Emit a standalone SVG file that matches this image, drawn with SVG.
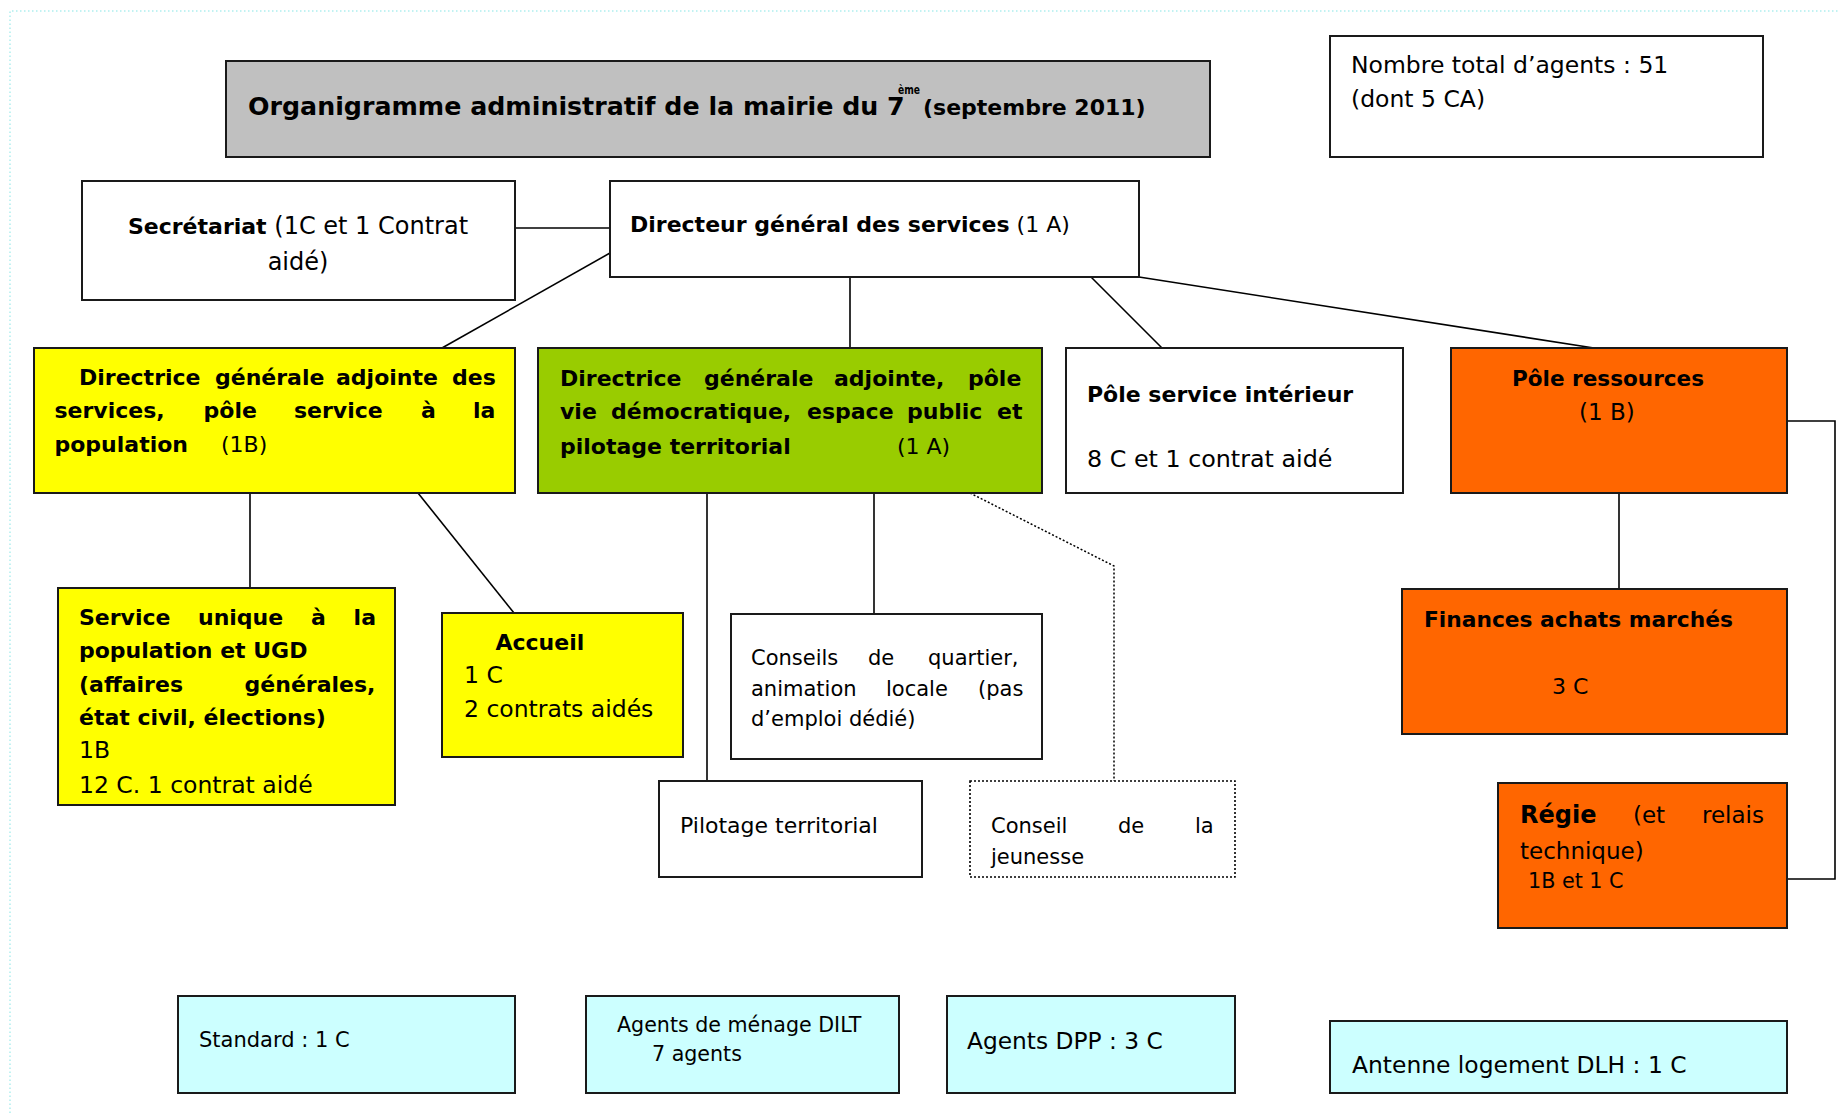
<svg xmlns="http://www.w3.org/2000/svg" width="1839" height="1113" viewBox="0 0 1839 1113">
<style>
text{font-family:"DejaVu Sans","Verdana",sans-serif;fill:#000}
.b{font-weight:bold}
.box{stroke:#1a1a1a;stroke-width:2}
.w{fill:#fff}.g{fill:#c0c0c0}.y{fill:#ffff00}.gr{fill:#99cc00}.o{fill:#ff6600}.c{fill:#ccffff}
.ln{stroke:#000;stroke-width:1.6;fill:none}
.dot{stroke:#000;stroke-width:1.5;fill:none;stroke-dasharray:2 2}
.f22{font-size:22px}.f23{font-size:23.5px}.f21{font-size:21px}
</style>
<g id="page-border"><path d="M10 1113 V11 H1839" fill="none" stroke="#aeeeee" stroke-width="1.5" stroke-dasharray="1.5 2.5"/></g>
<g id="connectors">
<line class="ln" x1="515" y1="228" x2="610" y2="228"/>
<line class="ln" x1="610" y1="253" x2="442" y2="348"/>
<line class="ln" x1="850" y1="277" x2="850" y2="348"/>
<line class="ln" x1="1091" y1="277" x2="1162" y2="348"/>
<line class="ln" x1="1139" y1="277" x2="1594" y2="348"/>
<line class="ln" x1="250" y1="493" x2="250" y2="588"/>
<line class="ln" x1="418" y1="493" x2="514" y2="613"/>
<line class="ln" x1="707" y1="493" x2="707" y2="781"/>
<line class="ln" x1="874" y1="493" x2="874" y2="614"/>
<polyline class="dot" points="970,493 1114,566 1114,781"/>
<line class="ln" x1="1619" y1="493" x2="1619" y2="589"/>
<polyline class="ln" points="1787,421 1835,421 1835,879 1787,879"/>
</g>
<g id="title">
<rect class="box g" x="226" y="61" width="984" height="96"/>
<text class="b" x="248" y="115" font-size="25.3">Organigramme administratif de la mairie du 7</text>
<text class="b" x="898" y="94" font-size="12" textLength="22" lengthAdjust="spacingAndGlyphs">ème</text>
<text class="b" x="923" y="115" font-size="22">(septembre 2011)</text>
</g>
<g id="total">
<rect class="box w" x="1330" y="36" width="433" height="121"/>
<text x="1351" y="73" font-size="23.5">Nombre total d’agents : 51</text>
<text x="1351" y="107" font-size="23.5">(dont 5 CA)</text>
</g>
<g id="secretariat">
<rect class="box w" x="82" y="181" width="433" height="119"/>
<text x="298" y="234" text-anchor="middle" font-size="24"><tspan class="b" font-size="22">Secrétariat</tspan> (1C et 1 Contrat</text>
<text x="298" y="270" text-anchor="middle" font-size="24">aidé)</text>
</g>
<g id="dgs">
<rect class="box w" x="610" y="181" width="529" height="96"/>
<text class="f22" x="630" y="232"><tspan class="b">Directeur général des services</tspan> (1 A)</text>
</g>
<g id="dga-population">
<rect class="box y" x="34" y="348" width="481" height="145"/>
<text class="f22 b" y="385"><tspan x="79">Directrice</tspan><tspan x="215">générale</tspan><tspan x="336">adjointe</tspan><tspan x="452">des</tspan></text>
<text class="f22 b" y="418"><tspan x="54.5">services,</tspan><tspan x="203.6">pôle</tspan><tspan x="294">service</tspan><tspan x="421">à</tspan><tspan x="473">la</tspan></text>
<text class="f22" y="452"><tspan class="b" x="54.5">population</tspan><tspan x="221">(1B)</tspan></text>
</g>
<g id="dga-vie-democratique">
<rect class="box gr" x="538" y="348" width="504" height="145"/>
<text class="f22 b" y="386"><tspan x="560">Directrice</tspan><tspan x="704">générale</tspan><tspan x="834">adjointe,</tspan><tspan x="968">pôle</tspan></text>
<text class="f22 b" y="419"><tspan x="560">vie</tspan><tspan x="611">démocratique,</tspan><tspan x="807">espace</tspan><tspan x="907">public</tspan><tspan x="997">et</tspan></text>
<text class="f22" y="454"><tspan class="b" x="560">pilotage territorial</tspan><tspan x="897">(1 A)</tspan></text>
</g>
<g id="pole-service-interieur">
<rect class="box w" x="1066" y="348" width="337" height="145"/>
<text class="f22 b" x="1087" y="402">Pôle service intérieur</text>
<text x="1087" y="467" font-size="23.8">8 C et 1 contrat aidé</text>
</g>
<g id="pole-ressources">
<rect class="box o" x="1451" y="348" width="336" height="145"/>
<text class="b" x="1512" y="386" font-size="21.5" textLength="192" lengthAdjust="spacingAndGlyphs">Pôle ressources</text>
<text x="1579" y="420" font-size="23">(1 B)</text>
</g>
<g id="service-unique">
<rect class="box y" x="58" y="588" width="337" height="217"/>
<text class="f22 b" y="625"><tspan x="79">Service</tspan><tspan x="198">unique</tspan><tspan x="311">à</tspan><tspan x="353.6">la</tspan></text>
<text class="f22 b" x="79" y="658">population et UGD</text>
<text class="f22 b" y="692"><tspan x="79">(affaires</tspan><tspan x="244.6">générales,</tspan></text>
<text class="f22 b" x="79" y="725">état civil, élections)</text>
<text class="f23" x="79" y="758">1B</text>
<text class="f23" x="79" y="793">12 C. 1 contrat aidé</text>
</g>
<g id="accueil">
<rect class="box y" x="442" y="613" width="241" height="144"/>
<text class="f22 b" x="495.5" y="650">Accueil</text>
<text class="f23" x="464" y="683">1 C</text>
<text class="f23" x="464" y="717">2 contrats aidés</text>
</g>
<g id="conseils-quartier">
<rect class="box w" x="731" y="614" width="311" height="145"/>
<text font-size="21" y="665"><tspan x="751">Conseils</tspan><tspan x="868">de</tspan><tspan x="928">quartier,</tspan></text>
<text font-size="21" y="696"><tspan x="751">animation</tspan><tspan x="886">locale</tspan><tspan x="978">(pas</tspan></text>
<text font-size="21" x="751" y="726">d’emploi dédié)</text>
</g>
<g id="pilotage-territorial">
<rect class="box w" x="659" y="781" width="263" height="96"/>
<text class="f22" x="680" y="833">Pilotage territorial</text>
</g>
<g id="conseil-jeunesse">
<rect x="970" y="781" width="265" height="96" fill="#fff" stroke="#000" stroke-width="1.6" stroke-dasharray="2 2"/>
<text class="f21" y="833"><tspan x="991">Conseil</tspan><tspan x="1118">de</tspan><tspan x="1195">la</tspan></text>
<text class="f21" x="991" y="864">jeunesse</text>
</g>
<g id="finances">
<rect class="box o" x="1402" y="589" width="385" height="145"/>
<text class="b" x="1424" y="627" font-size="21.75">Finances achats marchés</text>
<text class="f22" x="1552" y="694">3 C</text>
</g>
<g id="regie">
<rect class="box o" x="1498" y="783" width="289" height="145"/>
<text font-size="23" y="823"><tspan class="b" x="1520" font-size="24">Régie</tspan><tspan x="1633">(et</tspan><tspan x="1702">relais</tspan></text>
<text font-size="23" x="1520" y="858.5">technique)</text>
<text font-size="20.7" x="1528" y="888">1B et 1 C</text>
</g>
<g id="standard">
<rect class="box c" x="178" y="996" width="337" height="97"/>
<text class="f21" x="199" y="1047">Standard : 1 C</text>
</g>
<g id="menage">
<rect class="box c" x="586" y="996" width="313" height="97"/>
<text font-size="20.6" x="617" y="1032">Agents de ménage DILT</text>
<text font-size="20.6" x="652" y="1061">7 agents</text>
</g>
<g id="dpp">
<rect class="box c" x="947" y="996" width="288" height="97"/>
<text font-size="23.3" x="967" y="1049">Agents DPP : 3 C</text>
</g>
<g id="antenne">
<rect class="box c" x="1330" y="1021" width="457" height="72"/>
<text font-size="23.4" x="1352" y="1073">Antenne logement DLH : 1 C</text>
</g>
</svg>
